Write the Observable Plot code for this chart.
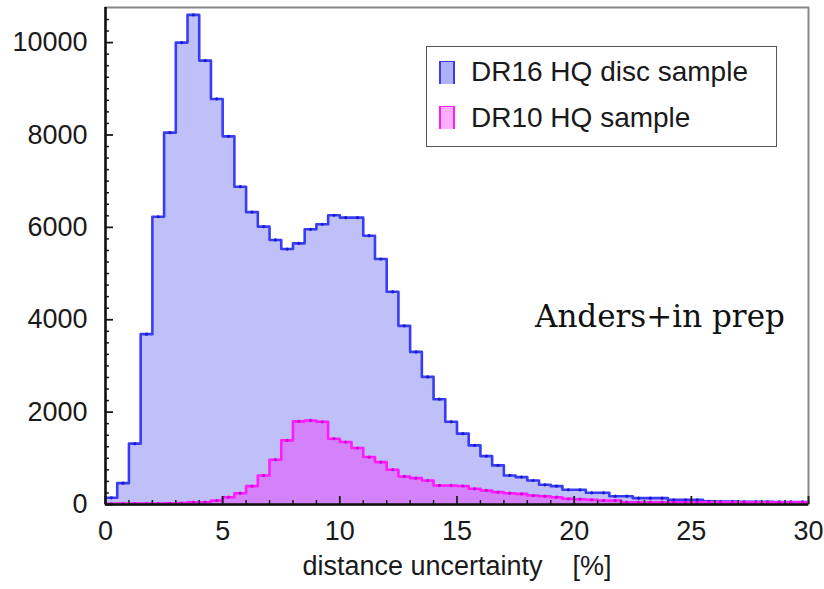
<!DOCTYPE html>
<html><head><meta charset="utf-8">
<script src="https://cdn.jsdelivr.net/npm/d3@7"></script>
<script src="https://cdn.jsdelivr.net/npm/@observablehq/plot@0.6"></script>
<style>
body{margin:0;background:#fff;}
#wrap{position:relative;width:824px;height:589px;overflow:hidden;}
.legend{position:absolute;left:426px;top:46px;width:351px;height:101px;border:1.5px solid #555;background:#fff;box-sizing:border-box;font-family:"Liberation Sans",Arial,sans-serif;font-size:28px;line-height:1;color:#1a1a1a;}
.row{position:absolute;left:12px;display:flex;align-items:center;white-space:nowrap;height:28px;}
.sw{display:inline-block;width:12px;height:22px;margin-right:16px;border-left:2px solid;border-right:2px solid;border-top:1px solid;}
.note{position:absolute;left:535px;top:301px;font-family:"DejaVu Serif",serif;font-size:31px;line-height:1;color:#111;white-space:nowrap;}
</style></head>
<body><div id="wrap"></div>
<script>
// histogram bins: 0..30 in steps of 0.5 (%)
const binWidth = 0.5;
const xMax = 30;
const seriesNames = ["DR16 HQ disc sample", "DR10 HQ sample"];
const dr16 = [145,462,1317,3688,6230,8050,10000,10600,9610,8780,
  7970,6880,6330,6015,5727,5530,5654,5958,6067,6262,
  6210,6210,5820,5315,4605,3868,3304,2762,2280,1790,
  1534,1280,1048,846,629,593,520,427,397,318,
  318,253,253,180,180,137,137,137,102,102,
  102,70,65,65,60,60,60,55,55,55];
const dr10 = [15,20,20,20,20,25,30,50,50,87,
  158,245,397,629,970,1388,1800,1820,1790,1425,
  1352,1222,1027,918,753,607,570,520,412,412,
  400,340,304,267,245,231,195,180,158,123,
  115,102,87,87,50,50,50,50,48,48,
  48,45,45,45,45,45,45,45,45,45];
const xMajor = [0,5,10,15,20,25,30];
const xMinor = [1,2,3,4,6,7,8,9,11,12,13,14,16,17,18,19,21,22,23,24,26,27,28,29];
const yMajor = [0,2000,4000,6000,8000,10000];
const yMinor = d3.range(250, 10750, 250).filter(v => v % 2000 !== 0);
const xLabel = "distance uncertainty\u00a0\u00a0\u00a0\u00a0[%]";

function steps(counts){
  const pts = counts.map((c,i)=>({x: i*binWidth, y: c}));
  pts.push({x: xMax, y: counts[counts.length-1]});
  return pts;
}
function centers(counts){ return counts.map((c,i)=>({x: i*binWidth + binWidth/2, y: c})); }

const blue = "#3a3cf2", blueFill = "#bfc0f7", mag = "#ff1aff";
const font = "'Liberation Sans', Arial, sans-serif";

const chart = Plot.plot({
  width: 824, height: 589,
  marginLeft: 105, marginRight: 16, marginTop: 7, marginBottom: 85,
  style: {fontFamily: font, fontSize: "27px", color: "#1a1a1a", background: "#fff"},
  x: {domain: [0, xMax]},
  y: {domain: [0, 10760]},
  marks: [
    Plot.areaY(steps(dr16), {x: "x", y: "y", curve: "step-after", fill: blueFill}),
    Plot.areaY(steps(dr10), {x: "x", y: "y", curve: "step-after", fill: "#ff00ff", fillOpacity: 0.32}),
    Plot.lineY(steps(dr16), {x: "x", y: "y", curve: "step-after", stroke: blue, strokeWidth: 2.6}),
    Plot.dot(centers(dr16), {x: "x", y: "y", r: 1.6, fill: "#1a1ad0"}),
    Plot.lineY(steps(dr10), {x: "x", y: "y", curve: "step-after", stroke: mag, strokeWidth: 2.6}),
    Plot.dot(centers(dr10), {x: "x", y: "y", r: 1.6, fill: "#d000d0"}),
    Plot.frame({stroke: "#888", strokeWidth: 2}),
    Plot.axisX({ticks: xMinor, tickSize: -4, tickFormat: () => "", label: null, strokeWidth: 1.5}),
    Plot.axisX({ticks: xMajor, tickSize: -8, tickPadding: 24, tickFormat: d => String(d), strokeWidth: 1.8,
      label: xLabel, labelAnchor: "center", labelOffset: 70, labelArrow: "none"}),
    Plot.axisY({ticks: yMinor, tickSize: -4, tickFormat: () => "", label: null, strokeWidth: 1.5}),
    Plot.axisY({ticks: yMajor, tickSize: -8, tickPadding: 26, tickFormat: d => String(d), label: null, strokeWidth: 1.8}),
    Plot.ruleY([0], {stroke: "#111", strokeWidth: 2.5}),
    Plot.ruleX([0], {stroke: "#111", strokeWidth: 2.5})
  ]
});
const wrap = document.getElementById("wrap");
wrap.appendChild(chart);

const legend = document.createElement("div");
legend.className = "legend";
const swatches = [[blue, "rgba(100,100,245,0.5)"], [mag, "rgba(255,60,255,0.4)"]];
seriesNames.forEach((name, i) => {
  const row = document.createElement("div");
  row.className = "row";
  row.style.top = (i === 0 ? 11 : 56.5) + "px";
  const sw = document.createElement("span");
  sw.className = "sw";
  sw.style.borderColor = swatches[i][0];
  sw.style.background = swatches[i][1];
  const t = document.createElement("span");
  t.textContent = name;
  row.appendChild(sw); row.appendChild(t);
  legend.appendChild(row);
});
wrap.appendChild(legend);

const note = document.createElement("div");
note.className = "note";
note.textContent = "Anders+in prep";
wrap.appendChild(note);
</script></body></html>
